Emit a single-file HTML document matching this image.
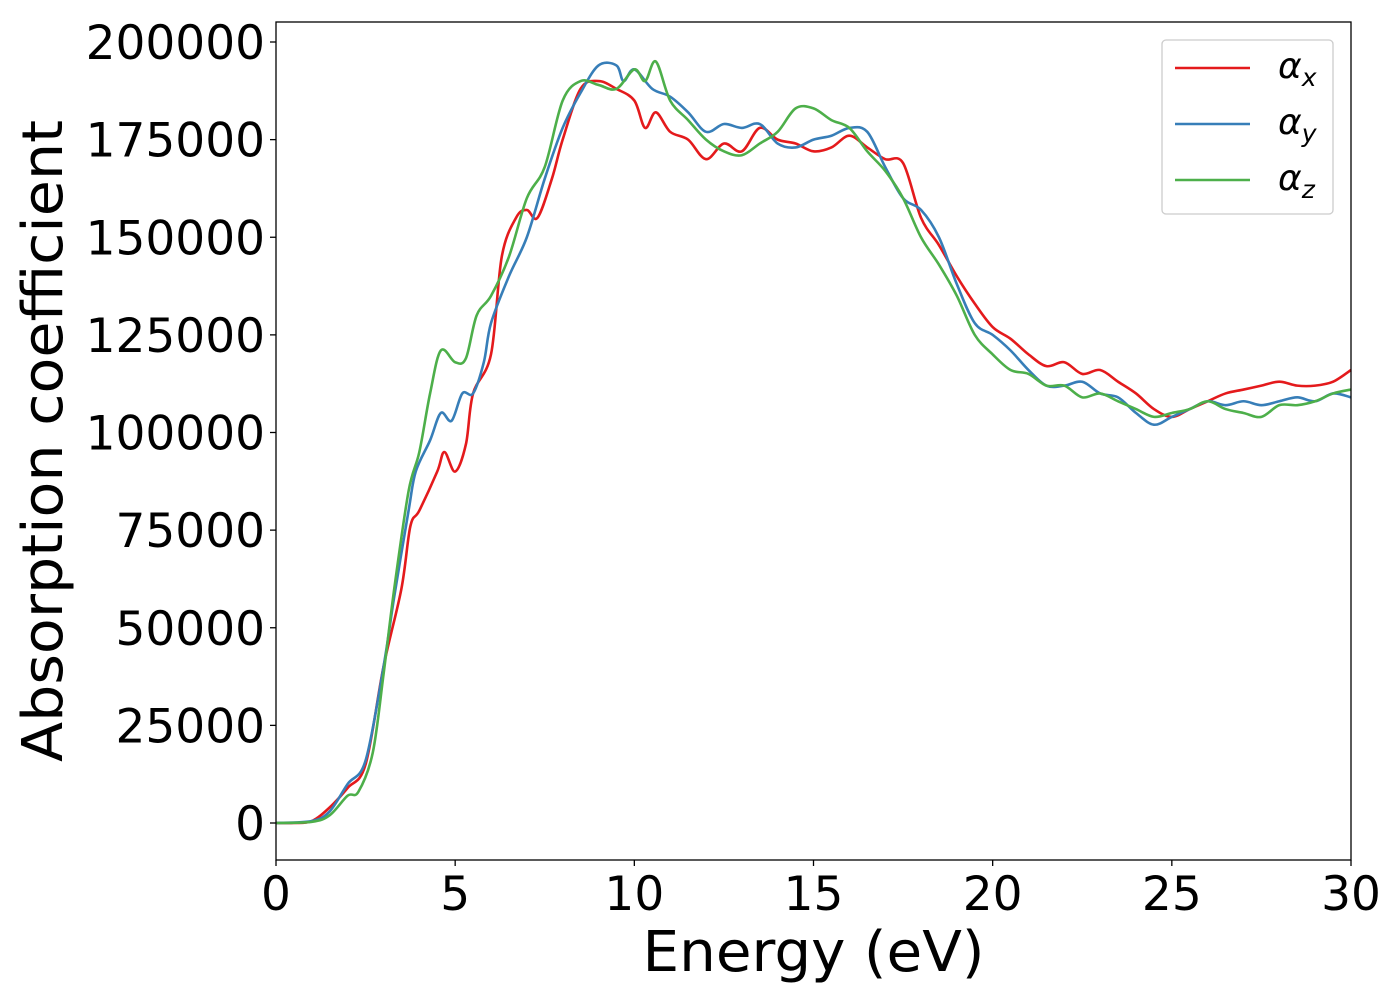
<!DOCTYPE html>
<html><head><meta charset="utf-8"><style>
html,body{margin:0;padding:0;background:#fff;}
svg text{font-family:"DejaVu Sans","Liberation Sans",sans-serif;}
</style></head><body>
<svg id="chart" width="1400" height="1000">
<g id="plot"></g>
</svg>
<script>
const xs_red=[0,0.5,1,1.5,2,2.5,3,3.5,3.75,4,4.5,4.7,5,5.3,5.5,6,6.3,6.7,7,7.3,7.7,8,8.5,9,9.5,10,10.3,10.6,11,11.5,12,12.5,13,13.5,14,14.5,15,15.5,16,16.5,17,17.5,18,18.5,19,19.5,20,20.5,21,21.5,22,22.5,23,23.5,24,24.5,25,25.5,26,26.5,27,27.5,28,28.5,29,29.5,30];
const alphaX=[0,0,500,4000,9000,15000,40000,60000,76000,80000,90000,95000,90000,97000,110000,120000,145000,155000,157000,155000,165000,175000,188000,190000,188000,185000,178000,182000,177000,175000,170000,174000,172000,178000,175000,174000,172000,173000,176000,173000,170000,169000,155000,148000,140000,133000,127000,124000,120000,117000,118000,115000,116000,113000,110000,106000,104000,106000,108000,110000,111000,112000,113000,112000,112000,113000,116000];
const xs_blue=[0,1,1.5,2,2.5,3,3.3,3.7,3.9,4.3,4.6,4.9,5.2,5.5,5.8,6,6.5,7,7.5,8,8.5,9,9.5,9.7,10,10.5,11,11.5,12,12.5,13,13.5,14,14.5,15,15.5,16,16.5,17,17.5,18,18.5,19,19.5,20,20.5,21,21.5,22,22.5,23,23.5,24,24.5,25,25.5,26,26.5,27,27.5,28,28.5,29,29.5,30];
const alphaY=[0,500,3000,10000,16000,40000,58000,80000,90000,98000,105000,103000,110000,110000,118000,128000,140000,150000,165000,178000,187000,194000,194000,190000,193000,188000,186000,182000,177000,179000,178000,179000,174000,173000,175000,176000,178000,177000,168000,160000,157000,150000,138000,128000,125000,121000,116000,112000,112000,113000,110000,109000,105000,102000,104000,106000,108000,107000,108000,107000,108000,109000,108000,110000,109000];
const xs_green=[0,1,1.5,2,2.3,2.7,3,3.3,3.7,4,4.3,4.6,5,5.3,5.6,6,6.5,7,7.5,8,8.5,9,9.5,10,10.3,10.6,11,11.5,12,12.5,13,13.5,14,14.5,15,15.5,16,16.5,17,17.5,18,18.5,19,19.5,20,20.5,21,21.5,22,22.5,23,23.5,24,24.5,25,25.5,26,26.5,27,27.5,28,28.5,29,29.5,30];
const alphaZ=[0,300,2000,7000,8000,18000,38000,60000,85000,95000,110000,121000,118000,119000,130000,135000,145000,160000,168000,185000,190000,189000,188000,193000,190000,195000,185000,180000,175000,172000,171000,174000,177000,183000,183000,180000,178000,172000,167000,160000,150000,143000,135000,125000,120000,116000,115000,112000,112000,109000,110000,108000,106000,104000,105000,106000,108000,106000,105000,104000,107000,107000,108000,110000,111000];
const xTicks=[0,5,10,15,20,25,30];
const yTicks=[0,25000,50000,75000,100000,125000,150000,175000,200000];
const seriesLabels=["x","y","z"];

const L=276,R=1351,T=22,B=860;
const X=v=>L+(v-0)/30*(R-L);
const Y=v=>823-(v/200000)*(823-42);
const NS="http://www.w3.org/2000/svg";
const g=document.getElementById('plot');
function mk(tag,attrs,parent){const e=document.createElementNS(NS,tag);for(const k in attrs)e.setAttribute(k,attrs[k]);(parent||g).appendChild(e);return e;}

const series=[[xs_red,alphaX,'#e41a1c'],[xs_blue,alphaY,'#377eb8'],[xs_green,alphaZ,'#4daf4a']];
series.forEach((s,i)=>{
  const pts=s[0].map((x,j)=>[X(x),Y(s[1][j])]);
  let d='M'+pts[0][0]+','+pts[0][1];
  for(let j=0;j<pts.length-1;j++){
    const p0=pts[Math.max(j-1,0)],p1=pts[j],p2=pts[j+1],p3=pts[Math.min(j+2,pts.length-1)];
    const c1=[p1[0]+(p2[0]-p0[0])/6,p1[1]+(p2[1]-p0[1])/6];
    const c2=[p2[0]-(p3[0]-p1[0])/6,p2[1]-(p3[1]-p1[1])/6];
    d+=` C${c1[0]},${c1[1]} ${c2[0]},${c2[1]} ${p2[0]},${p2[1]}`;
  }
  const p=mk('path',{d:d,fill:'none',stroke:s[2],'stroke-width':2.6});
  
  
});
const fr=mk('rect',{x:L,y:T,width:R-L,height:B-T,fill:'none',stroke:'#000','stroke-width':1.3});


xTicks.forEach(t=>{
  const ln=mk('line',{x1:X(t),x2:X(t),y1:B,y2:B+6,stroke:'#000','stroke-width':1.3});
  
  
  const tx=mk('text',{x:X(t),y:B+50,'text-anchor':'middle','font-size':47});
  tx.textContent=t;
  
  
});
yTicks.forEach(t=>{
  const ln=mk('line',{x1:L-6,x2:L,y1:Y(t),y2:Y(t),stroke:'#000','stroke-width':1.3});
  
  
  const tx=mk('text',{x:L-11,y:Y(t)+17,'text-anchor':'end','font-size':47});
  tx.textContent=t;
  
  
});
const xt=mk('text',{x:(L+R)/2,y:971,'text-anchor':'middle','font-size':56,textLength:342,lengthAdjust:'spacingAndGlyphs'});
xt.textContent='Energy (eV)';


const yt=mk('text',{x:0,y:0,'text-anchor':'middle','font-size':56,textLength:642,lengthAdjust:'spacingAndGlyphs',transform:'translate(62,441) rotate(-90)'});
yt.textContent='Absorption coefficient';


const lg=mk('rect',{x:1162,y:40,width:171,height:174,rx:4,fill:'#fff','fill-opacity':0.8,stroke:'#ccc','stroke-width':1.3});


series.forEach((s,i)=>{
  const y=68+i*56;
  const ln=mk('line',{x1:1175,x2:1250,y1:y,y2:y,stroke:s[2],'stroke-width':2.6});
  
  
  const tx=mk('text',{x:1278,y:y+10,'font-size':36,'font-style':'italic'});
  
  
  tx.innerHTML='α<tspan font-size="25" dy="8">'+seriesLabels[i]+'</tspan>';
});
</script>
</body></html>
